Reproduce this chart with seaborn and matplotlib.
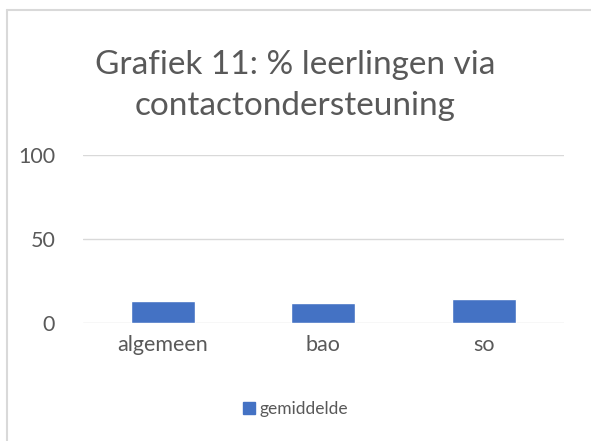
import matplotlib
matplotlib.use("Agg")
import matplotlib.pyplot as plt
from matplotlib.lines import Line2D
from matplotlib.patches import Patch
import seaborn as sns
import pandas as pd

# data
categories = ["algemeen", "bao", "so"]
gemiddelde = [13, 12, 14]
y_ticks = [0, 50, 100]

sns.set_style("white")
plt.rcParams['font.family'] = ['Lato', 'DejaVu Sans']

bar_color = "#4472C4"
text_color = "#595959"
grid_color = "#D9D9D9"

df = pd.DataFrame({"categorie": categories, "gemiddelde": gemiddelde})

fig = plt.figure(figsize=(5.91, 4.41), dpi=100)
ax = fig.add_axes([0.1404, 0.2676, 0.8136, 0.3809])

sns.barplot(data=df, x="categorie", y="gemiddelde", color=bar_color,
            width=0.4, saturation=1, ax=ax)

ax.set_ylim(0, 100)
ax.set_yticks(y_ticks)
ax.yaxis.grid(True, color=grid_color, linewidth=1)
ax.set_axisbelow(True)
for s in ax.spines.values():
    s.set_visible(False)
ax.tick_params(axis='both', length=0, labelsize=15.5, colors=text_color)
ax.tick_params(axis='y', pad=20)
ax.tick_params(axis='x', pad=9)
ax.set_xlabel("")
ax.set_ylabel("")

fig.text(0.5, 0.806, "Grafiek 11: % leerlingen via\ncontactondersteuning",
         ha="center", va="center", fontsize=24, color=text_color, linespacing=1.45)

ax.legend(handles=[Patch(color=bar_color, label="gemiddelde")],
          loc="center", bbox_to_anchor=(0.5, 0.072), bbox_transform=fig.transFigure,
          frameon=False, fontsize=12.5, labelcolor=text_color,
          handlelength=0.7, handleheight=0.7, handletextpad=0.3)

# outer chart border (top and left visible)
fig.add_artist(Line2D([7/591, 1], [1 - 10/441, 1 - 10/441], color=grid_color, lw=1.5))
fig.add_artist(Line2D([7/591, 7/591], [0, 1 - 10/441], color=grid_color, lw=1.5))

fig.savefig("out.png", dpi=100)
